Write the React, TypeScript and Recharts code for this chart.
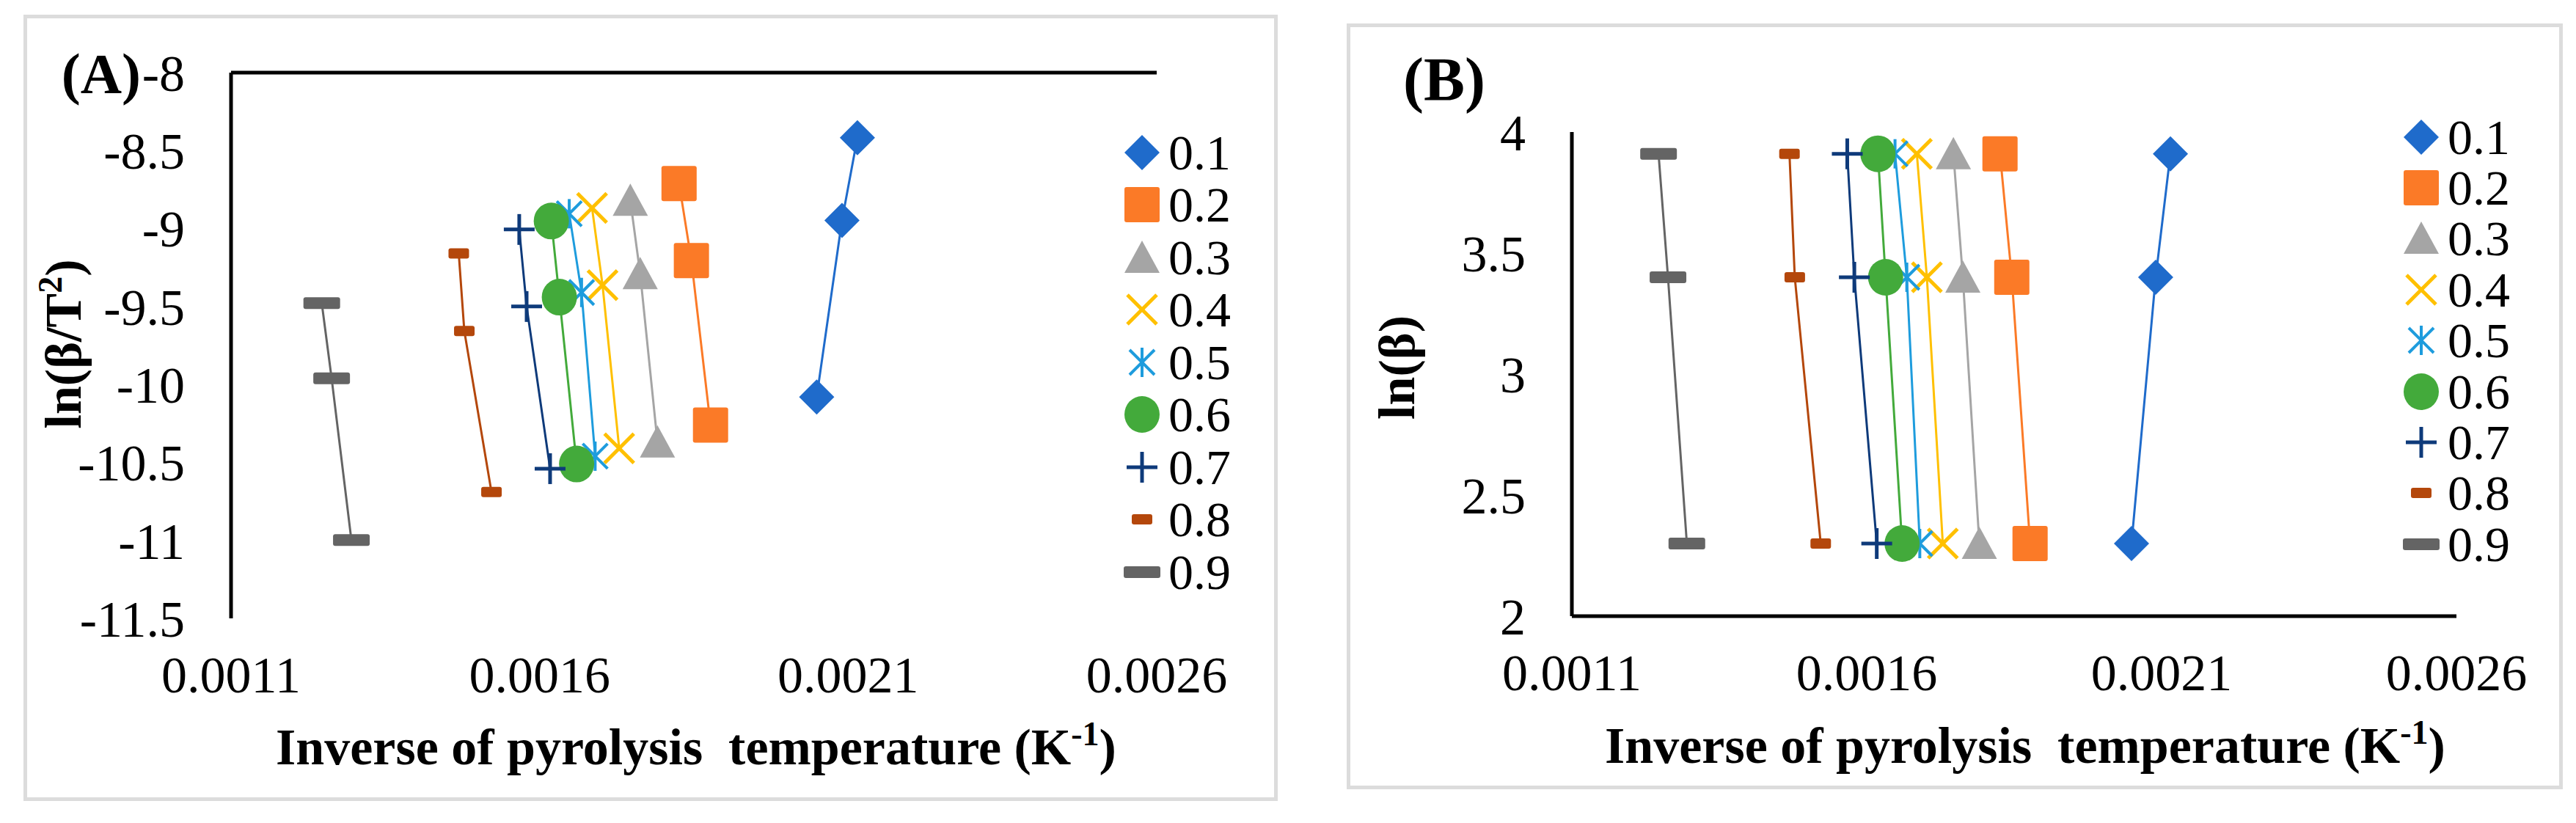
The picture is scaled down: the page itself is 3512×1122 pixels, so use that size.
import React from "react"
import {
  ScatterChart,
  Scatter,
  XAxis,
  YAxis,
  ReferenceLine,
} from "recharts"

// conversion levels (legend)
const conversions = ["0.1", "0.2", "0.3", "0.4", "0.5", "0.6", "0.7", "0.8", "0.9"]

// inverse temperature (1/K) at beta = 50, 30, 10 K/min
const inverseT = [
  [0.002115, 0.00209, 0.002049],
  [0.001826, 0.001846, 0.001877],
  [0.001747, 0.001763, 0.001791],
  [0.001685, 0.001702, 0.001729],
  [0.001648, 0.001668, 0.00169],
  [0.001619, 0.001632, 0.00166],
  [0.001567, 0.001579, 0.001617],
  [0.001469, 0.001478, 0.001522],
  [0.001247, 0.001263, 0.001295],
]

// ln(beta/T^2)
const lnBetaT2 = [
  [-8.417, -8.948, -10.08],
  [-8.711, -9.206, -10.26],
  [-8.82, -9.29, -10.37],
  [-8.868, -9.363, -10.41],
  [-8.905, -9.41, -10.46],
  [-8.952, -9.44, -10.51],
  [-9.006, -9.5, -10.54],
  [-9.16, -9.657, -10.69],
  [-9.478, -9.961, -10.998],
]

// ln(beta)
const lnBeta = [3.91, 3.4, 2.3]

const xTicks = [0.0011, 0.0016, 0.0021, 0.0026]
const yTicksA = [-8, -8.5, -9, -9.5, -10, -10.5, -11, -11.5]
const yTicksB = [2, 2.5, 3, 3.5, 4]

const colors = [
  "#1f6bcb",
  "#fb7a27",
  "#a5a5a5",
  "#ffc000",
  "#1e9cdd",
  "#43aa3b",
  "#0e3a7a",
  "#b4470b",
  "#646464",
]
const markers = ["diamond", "square", "triangle", "x", "star", "circle", "plus", "dashS", "dashL"]

const FONT = "'Liberation Serif', 'Times New Roman', serif"

function MarkerShape({ kind, color, cx, cy }: { kind: string; color: string; cx: number; cy: number }) {
  switch (kind) {
    case "diamond":
      return <polygon points={`${cx},${cy - 24} ${cx + 24},${cy} ${cx},${cy + 24} ${cx - 24},${cy}`} fill={color} />
    case "square":
      return <rect x={cx - 24} y={cy - 24} width={48} height={48} rx={3} fill={color} />
    case "triangle":
      return <polygon points={`${cx},${cy - 23} ${cx + 24},${cy + 21} ${cx - 24},${cy + 21}`} fill={color} />
    case "x":
      return (
        <g stroke={color} strokeWidth={5}>
          <line x1={cx - 20} y1={cy - 20} x2={cx + 20} y2={cy + 20} />
          <line x1={cx - 20} y1={cy + 20} x2={cx + 20} y2={cy - 20} />
        </g>
      )
    case "star":
      return (
        <g stroke={color} strokeWidth={4}>
          <line x1={cx - 17} y1={cy - 17} x2={cx + 17} y2={cy + 17} />
          <line x1={cx - 17} y1={cy + 17} x2={cx + 17} y2={cy - 17} />
          <line x1={cx} y1={cy - 20} x2={cx} y2={cy + 20} />
        </g>
      )
    case "circle":
      return <ellipse cx={cx} cy={cy} rx={24} ry={25} fill={color} />
    case "plus":
      return (
        <g stroke={color} strokeWidth={5}>
          <line x1={cx - 21} y1={cy} x2={cx + 21} y2={cy} />
          <line x1={cx} y1={cy - 21} x2={cx} y2={cy + 21} />
        </g>
      )
    case "dashS":
      return <rect x={cx - 14} y={cy - 7} width={28} height={14} rx={3} fill={color} />
    case "dashL":
      return <rect x={cx - 25} y={cy - 8} width={50} height={16} rx={3} fill={color} />
    default:
      return null
  }
}

const tickStyle = { fontFamily: FONT, fontSize: 70, fill: "#000" }

function LegendBox({ left, top, rowHeight }: { left: number; top: number; rowHeight: number }) {
  return (
    <div style={{ position: "absolute", left, top, fontFamily: FONT, fontSize: 68, color: "#000" }}>
      {conversions.map((c, i) => (
        <div key={c} style={{ display: "flex", alignItems: "center", height: rowHeight }}>
          <svg width={52} height={52} style={{ display: "block" }}>
            <MarkerShape kind={markers[i]} color={colors[i]} cx={26} cy={26} />
          </svg>
          <span style={{ marginLeft: 10, lineHeight: 1 }}>{c}</span>
        </div>
      ))}
    </div>
  )
}

function Panel({
  yValues,
  yDomain,
  yTicks,
  width,
  margin,
  topLine,
}: {
  yValues: (i: number, j: number) => number
  yDomain: [number, number]
  yTicks: number[]
  width: number
  margin: { top: number; right: number; bottom: number; left: number }
  topLine: boolean
}) {
  return (
    <ScatterChart width={width} height={1122} margin={margin} style={{ fontFamily: FONT }}>
      <XAxis
        type="number"
        dataKey="x"
        domain={[0.0011, 0.0026]}
        ticks={xTicks}
        allowDataOverflow
        height={100}
        tick={tickStyle}
        tickLine={false}
        tickSize={0}
        tickMargin={51}
        axisLine={topLine ? false : { stroke: "#000", strokeWidth: 5 }}
        tickFormatter={(v: number) => v.toFixed(4)}
      />
      <YAxis
        type="number"
        dataKey="y"
        domain={yDomain}
        ticks={yTicks}
        allowDataOverflow
        width={100}
        tick={tickStyle}
        tickLine={false}
        tickSize={0}
        tickMargin={63}
        axisLine={{ stroke: "#000", strokeWidth: 5 }}
      />
      {topLine && <ReferenceLine y={yDomain[1]} stroke="#000" strokeWidth={5} />}
      {conversions.map((c, i) => (
        <Scatter
          key={c}
          name={c}
          data={inverseT[i].map((x, j) => ({ x, y: yValues(i, j) }))}
          line={{ stroke: colors[i], strokeWidth: 3 }}
          isAnimationActive={false}
          shape={(p: any) => <MarkerShape kind={markers[i]} color={colors[i]} cx={p.cx} cy={p.cy} />}
        />
      ))}
    </ScatterChart>
  )
}

export default function App() {
  return (
    <div
      style={{
        position: "relative",
        width: 3512,
        height: 1122,
        margin: -8,
        background: "#fff",
        fontFamily: FONT,
        overflow: "hidden",
      }}
    >
      {/* frames */}
      <div
        style={{
          position: "absolute",
          left: 32,
          top: 20,
          width: 1710,
          height: 1072,
          border: "5px solid #dcdcdc",
          boxSizing: "border-box",
        }}
      />
      <div
        style={{
          position: "absolute",
          left: 1836,
          top: 32,
          width: 1658,
          height: 1044,
          border: "5px solid #dcdcdc",
          boxSizing: "border-box",
        }}
      />

      <div style={{ position: "absolute", left: 0, top: 0 }}>
        <Panel
          yValues={(i, j) => lnBetaT2[i][j]}
          yDomain={[-11.5, -8]}
          yTicks={yTicksA}
          width={1760}
          margin={{ top: 99, right: 183, bottom: 179, left: 215 }}
          topLine
        />
      </div>
      <div style={{ position: "absolute", left: 1760, top: 0 }}>
        <Panel
          yValues={(_i, j) => lnBeta[j]}
          yDomain={[2, 4]}
          yTicks={yTicksB}
          width={1752}
          margin={{ top: 180, right: 163, bottom: 182, left: 283 }}
          topLine={false}
        />
      </div>

      <LegendBox left={1531} top={172} rowHeight={71.5} />
      <LegendBox left={3275} top={152} rowHeight={69.4} />

      {/* titles */}
      <svg
        width={3512}
        height={1122}
        style={{ position: "absolute", left: 0, top: 0, pointerEvents: "none" }}
        fontFamily={FONT}
      >
        <text x={192} y={127} fontSize={78} fontWeight="bold" textAnchor="end">(A)</text>
        <text x={1913} y={137} fontSize={84} fontWeight="bold">(B)</text>

        <text x={949} y={1042} fontSize={70} fontWeight="bold" textAnchor="middle" style={{ whiteSpace: "pre" }}>
          Inverse of pyrolysis  temperature (K
          <tspan dy={-26} fontSize={46}>-1</tspan>
          <tspan dy={26}>)</tspan>
        </text>
        <text x={2761} y={1040} fontSize={70} fontWeight="bold" textAnchor="middle" style={{ whiteSpace: "pre" }}>
          Inverse of pyrolysis  temperature (K
          <tspan dy={-26} fontSize={46}>-1</tspan>
          <tspan dy={26}>)</tspan>
        </text>

        <text transform="translate(110,469) rotate(-90)" fontSize={70} fontWeight="bold" textAnchor="middle">
          ln(β/T
          <tspan dy={-26} fontSize={46}>2</tspan>
          <tspan dy={26}>)</tspan>
        </text>
        <text transform="translate(1928,501) rotate(-90)" fontSize={70} fontWeight="bold" textAnchor="middle">
          ln(β)
        </text>
      </svg>
    </div>
  )
}
